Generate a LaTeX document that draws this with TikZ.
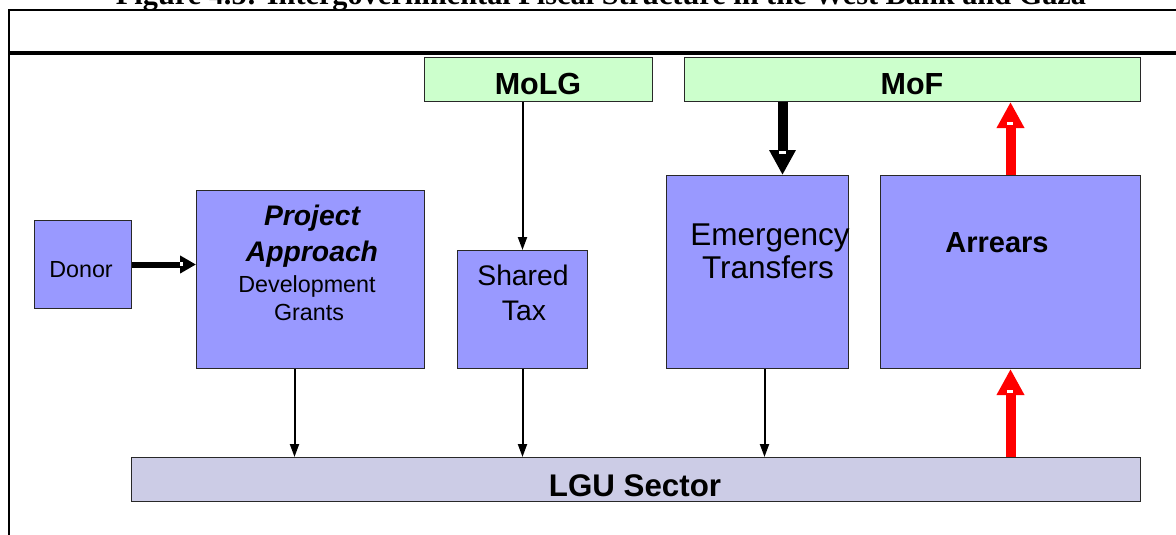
\documentclass[tikz,border=0pt]{standalone}
\usepackage{fontspec}
\setmainfont{Liberation Sans}
\newfontfamily\titlefont{Liberation Serif}
\usetikzlibrary{arrows.meta}
\definecolor{boxblue}{RGB}{153,153,255}
\definecolor{boxgreen}{RGB}{204,255,204}
\definecolor{boxlgu}{RGB}{204,204,230}
\definecolor{edgegray}{RGB}{40,40,40}
\begin{document}
\begin{tikzpicture}[x=1pt,y=-1pt,
  bluebox/.style={draw=edgegray, line width=1pt, fill=boxblue, inner sep=0pt, anchor=north west},
  greenbox/.style={draw=edgegray, line width=1pt, fill=boxgreen, inner sep=0pt, anchor=north west},
  lgubox/.style={draw=edgegray, line width=1pt, fill=boxlgu, inner sep=0pt, anchor=north west},
  txt/.style={anchor=base, inner sep=0pt},
  thinarrow/.style={draw=black, line width=2pt, -{Triangle[length=13pt,width=9pt]}},
  blackblock/.style={draw=black, line width=10pt, -{Triangle[length=25pt,width=25pt]}},
  donorblock/.style={draw=black, line width=6pt, -{Triangle[length=16pt,width=17pt]}},
  redblock/.style={draw=red, line width=10pt, -{Triangle[length=26pt,width=26pt]}},
  frameline/.style={draw=black, line width=2.5pt},
]
\useasboundingbox (0,0) rectangle (1176,535);

% title (cut off at the top)
\node[txt, font=\titlefont\bfseries\fontsize{30.3}{36}\selectfont] (title) at (601,5)
  {Figure 4.5: Intergovernmental Fiscal Structure in the West Bank and Gaza};

% frame
\draw[frameline] (9,535) -- (9,10) -- (1180,10);
\draw[draw=black, line width=4pt] (8,53) -- (1180,53);

% boxes
\node[greenbox, minimum width=228pt, minimum height=44pt] (molg) at (424,57) {};
\node[greenbox, minimum width=456pt, minimum height=44pt] (mof) at (684,57) {};
\node[bluebox, minimum width=97pt, minimum height=88pt] (donor) at (34,220) {};
\node[bluebox, minimum width=228pt, minimum height=178pt] (project) at (196,190) {};
\node[bluebox, minimum width=130pt, minimum height=118pt] (shared) at (457,250) {};
\node[bluebox, minimum width=182pt, minimum height=193pt] (emerg) at (666,175) {};
\node[bluebox, minimum width=260pt, minimum height=193pt] (arrears) at (880,175) {};
\node[lgubox, minimum width=1009pt, minimum height=44pt] (lgu) at (131,457) {};

% texts
\node[txt, font=\bfseries\fontsize{30.5}{34}\selectfont] (molgt) at (538,95) {MoLG};
\node[txt, font=\bfseries\fontsize{30.5}{34}\selectfont] (moft) at (912,95) {MoF};
\node[txt, font=\fontsize{23.3}{26}\selectfont] (donort) at (81,277) {Donor};
\node[txt, font=\bfseries\itshape\fontsize{28.3}{32}\selectfont] (projt1) at (312,225) {Project};
\node[txt, font=\bfseries\itshape\fontsize{28.3}{32}\selectfont] (projt2) at (312,261) {Approach};
\node[txt, font=\fontsize{23.3}{26}\selectfont] (projt3) at (307,292) {Development};
\node[txt, font=\fontsize{23.3}{26}\selectfont] (projt4) at (309,320) {Grants};
\node[txt, font=\fontsize{28.3}{32}\selectfont] (sharedt1) at (523,285) {Shared};
\node[txt, font=\fontsize{28.3}{32}\selectfont] (sharedt2) at (524,320) {Tax};
\node[txt, font=\fontsize{31.5}{34}\selectfont] (emergt1) at (770,245) {Emergency};
\node[txt, font=\fontsize{31.5}{34}\selectfont] (emergt2) at (768,278) {Transfers};
\node[txt, font=\bfseries\fontsize{29}{32}\selectfont] (arrearst) at (997,252) {Arrears};
\node[txt, font=\bfseries\fontsize{31.3}{34}\selectfont] (lgut) at (635,496) {LGU Sector};

% connectors
\draw[donorblock] (donor.east) -- (donor.east -| project.west);
\draw[thinarrow] (shared.north |- molg.south) -- (shared.north);
\draw[blackblock] ([xshift=25pt]emerg.north |- mof.south) -- ([xshift=25pt]emerg.north);
\draw[redblock] (arrears.north) -- (arrears.north |- mof.south);
\draw[redblock] (arrears.south |- lgu.north) -- (arrears.south);
\draw[thinarrow] ([xshift=-16pt]project.south) -- ([xshift=-16pt]project.south |- lgu.north);
\draw[thinarrow] (shared.south) -- (shared.south |- lgu.north);
\draw[thinarrow] ([xshift=7pt]emerg.south) -- ([xshift=7pt]emerg.south |- lgu.north);

% small white notches of the block arrows
\fill[white] (180,262) rectangle (183,266);
\fill[white] (779,151) rectangle (786,154);
\fill[white] (1007,122) rectangle (1013,125);
\fill[white] (1007,390) rectangle (1013,393);
\end{tikzpicture}
\end{document}
